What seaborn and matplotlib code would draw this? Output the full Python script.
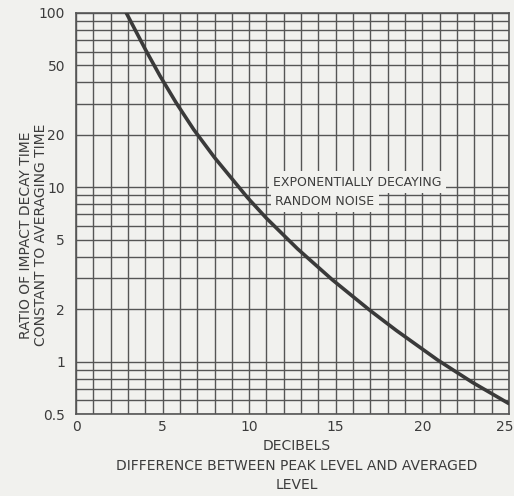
import numpy as np
import pandas as pd
import seaborn as sns
import matplotlib.pyplot as plt
from matplotlib.ticker import FixedLocator, NullFormatter
from matplotlib.transforms import ScaledTranslation

# valores
decibeis = [2.9, 4.0, 4.85, 5.8, 6.8, 8.0, 9.9, 11.0, 12.8, 14.8, 17.0, 18.5, 20.9, 22.9, 25.0]
razao = [100, 61.8, 43.5, 30.3, 21.4, 14.8, 8.73, 6.64, 4.43, 2.95, 1.96, 1.51, 1.02, 0.76, 0.575]

ticks_x = [0, 5, 10, 15, 20, 25]
ticks_y = [0.5, 1, 2, 5, 10, 20, 50, 100]
rotulos_y = ["0.5", "1", "2", "5", "10", "20", "50", "100"]
grade_y = [0.6, 0.7, 0.8, 0.9, 3, 4, 6, 7, 8, 9, 30, 40, 60, 70, 80, 90]

fundo = "#f1f1ee"
cinza = "#555555"
texto = "#3c3c3c"

sns.set_theme(style="white")
plt.rcParams['font.family'] = ['DejaVu Sans']

fig = plt.figure(figsize=(5.14, 4.96), dpi=100, facecolor=fundo)
ax = fig.add_axes([0.148, 0.165, 0.842, 0.809], facecolor=fundo)

df = pd.DataFrame({"dB": decibeis, "razao": razao})
sns.lineplot(data=df, x="dB", y="razao", ax=ax, color="#3a3a3a", linewidth=2.6, zorder=5)

ax.set_yscale("log")
ax.set_xlim(0, 25)
ax.set_ylim(0.5, 100)

ax.xaxis.set_major_locator(FixedLocator(ticks_x))
ax.xaxis.set_minor_locator(FixedLocator(range(0, 26)))
ax.set_xticklabels([str(t) for t in ticks_x])
ax.yaxis.set_major_locator(FixedLocator(ticks_y))
ax.yaxis.set_minor_locator(FixedLocator(grade_y))
ax.set_yticklabels(rotulos_y)
ax.yaxis.set_minor_formatter(NullFormatter())

ax.grid(True, which="both", color=cinza, linewidth=1.0)
ax.tick_params(which="both", length=0, labelsize=10, colors=texto)
ax.tick_params(axis="y", pad=8)
ax.tick_params(axis="x", pad=4)
for s in ax.spines.values():
    s.set_color(cinza)
    s.set_linewidth(1.2)

# o "25" fica encostado na borda direita
ultimo = ax.get_xticklabels()[-1]
ultimo.set_transform(ultimo.get_transform() + ScaledTranslation(-4 / 100, 0, fig.dpi_scale_trans))

ax.set_ylabel("RATIO OF IMPACT DECAY TIME\nCONSTANT TO AVERAGING TIME",
              fontsize=10, color=texto, linespacing=1.1)
ax.yaxis.set_label_coords(-0.065, 0.446)
ax.set_xlabel("DECIBELS\nDIFFERENCE BETWEEN PEAK LEVEL AND AVERAGED\nLEVEL",
              fontsize=10, color=texto, linespacing=1.5)
ax.xaxis.set_label_coords(0.51, -0.062)

# legenda da curva
caixa = dict(boxstyle="square,pad=0.35", facecolor=fundo, edgecolor="none")
ax.text(11.4, 10.7, "EXPONENTIALLY DECAYING", fontsize=9, color=texto,
        ha="left", va="center", bbox=caixa, zorder=6)
ax.text(11.5, 8.3, "RANDOM NOISE", fontsize=9, color=texto,
        ha="left", va="center", bbox=caixa, zorder=6)

plt.savefig("out.png", dpi=100, facecolor=fundo)
